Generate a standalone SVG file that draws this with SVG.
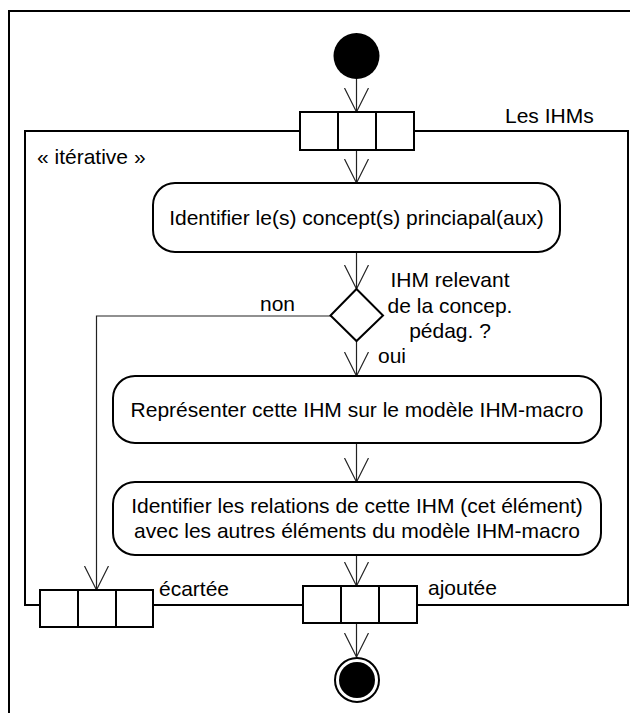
<svg xmlns="http://www.w3.org/2000/svg" width="630" height="713" viewBox="0 0 630 713">
<style>
.frame{fill:none;stroke:#000;stroke-width:2}
.box{fill:#fff;stroke:#000;stroke-width:2}
.act{fill:#fff;stroke:#000;stroke-width:2}
.con{fill:none;stroke:#222;stroke-width:1.2}
text{font-family:"Liberation Sans",Arial,sans-serif;font-size:21px;fill:#000}
.c{text-anchor:middle}
</style>
<defs>
<marker id="arr" markerWidth="30" markerHeight="30" refX="24" refY="12" orient="auto" markerUnits="userSpaceOnUse">
<path d="M0,0 L24,12 L0,24" fill="none" stroke="#222" stroke-width="1.2"/>
</marker>
</defs>
<rect width="630" height="713" fill="#fff"/>
<g id="outer-frame">
<path class="frame" d="M9,713 V11 H640"/>
</g>
<g id="region">
<rect class="frame" x="25" y="131" width="603" height="474"/>
<text x="37" y="164">« itérative »</text>
<text x="505" y="123">Les IHMs</text>
</g>
<g id="connectors">
<line class="con" x1="356.5" y1="79" x2="356.5" y2="112" marker-end="url(#arr)"/>
<line class="con" x1="356.5" y1="150" x2="356.5" y2="183" marker-end="url(#arr)"/>
<line class="con" x1="356.5" y1="252" x2="356.5" y2="289" marker-end="url(#arr)"/>
<line class="con" x1="356.5" y1="341" x2="356.5" y2="376" marker-end="url(#arr)"/>
<line class="con" x1="356.5" y1="443" x2="356.5" y2="482" marker-end="url(#arr)"/>
<line class="con" x1="356.5" y1="555" x2="356.5" y2="586" marker-end="url(#arr)"/>
<line class="con" x1="356.5" y1="623" x2="356.5" y2="657" marker-end="url(#arr)"/>
<polyline class="con" points="331,316 96.5,316 96.5,590" marker-end="url(#arr)"/>
<text x="260" y="311">non</text>
<text x="378" y="363">oui</text>
</g>
<g id="start">
<circle cx="356.5" cy="56" r="23" fill="#000"/>
</g>
<g id="input-pin">
<rect class="box" x="300" y="112" width="114" height="38"/>
<line class="box" x1="338" y1="112" x2="338" y2="150"/>
<line class="box" x1="376" y1="112" x2="376" y2="150"/>
</g>
<g id="act1">
<rect class="act" x="153" y="183" width="407" height="69" rx="22" ry="22"/>
<text class="c" x="356.5" y="225">Identifier le(s) concept(s) princiapal(aux)</text>
</g>
<g id="decision">
<polygon class="box" points="356.5,289 383,315.5 356.5,341 330.5,315.5"/>
<text class="c" x="450" y="287">IHM relevant</text>
<text class="c" x="450" y="313">de la concep.</text>
<text class="c" x="450" y="338">pédag. ?</text>
</g>
<g id="act2">
<rect class="act" x="113" y="376" width="488" height="67" rx="22" ry="22"/>
<text class="c" x="357" y="417">Représenter cette IHM sur le modèle IHM-macro</text>
</g>
<g id="act3">
<rect class="act" x="113" y="482" width="488" height="73" rx="22" ry="22"/>
<text class="c" x="357" y="513">Identifier les relations de cette IHM (cet élément)</text>
<text class="c" x="357" y="538">avec les autres éléments du modèle IHM-macro</text>
</g>
<g id="pin-ecartee">
<rect class="box" x="40" y="590" width="113" height="37"/>
<line class="box" x1="78" y1="590" x2="78" y2="627"/>
<line class="box" x1="116" y1="590" x2="116" y2="627"/>
<text x="159" y="596">écartée</text>
</g>
<g id="pin-ajoutee">
<rect class="box" x="303" y="586" width="114" height="37"/>
<line class="box" x1="341" y1="586" x2="341" y2="623"/>
<line class="box" x1="379" y1="586" x2="379" y2="623"/>
<text x="428" y="595">ajoutée</text>
</g>
<g id="end">
<circle cx="357" cy="680" r="22" fill="#fff" stroke="#000" stroke-width="2"/>
<circle cx="357" cy="680" r="18" fill="#000"/>
</g>
</svg>
